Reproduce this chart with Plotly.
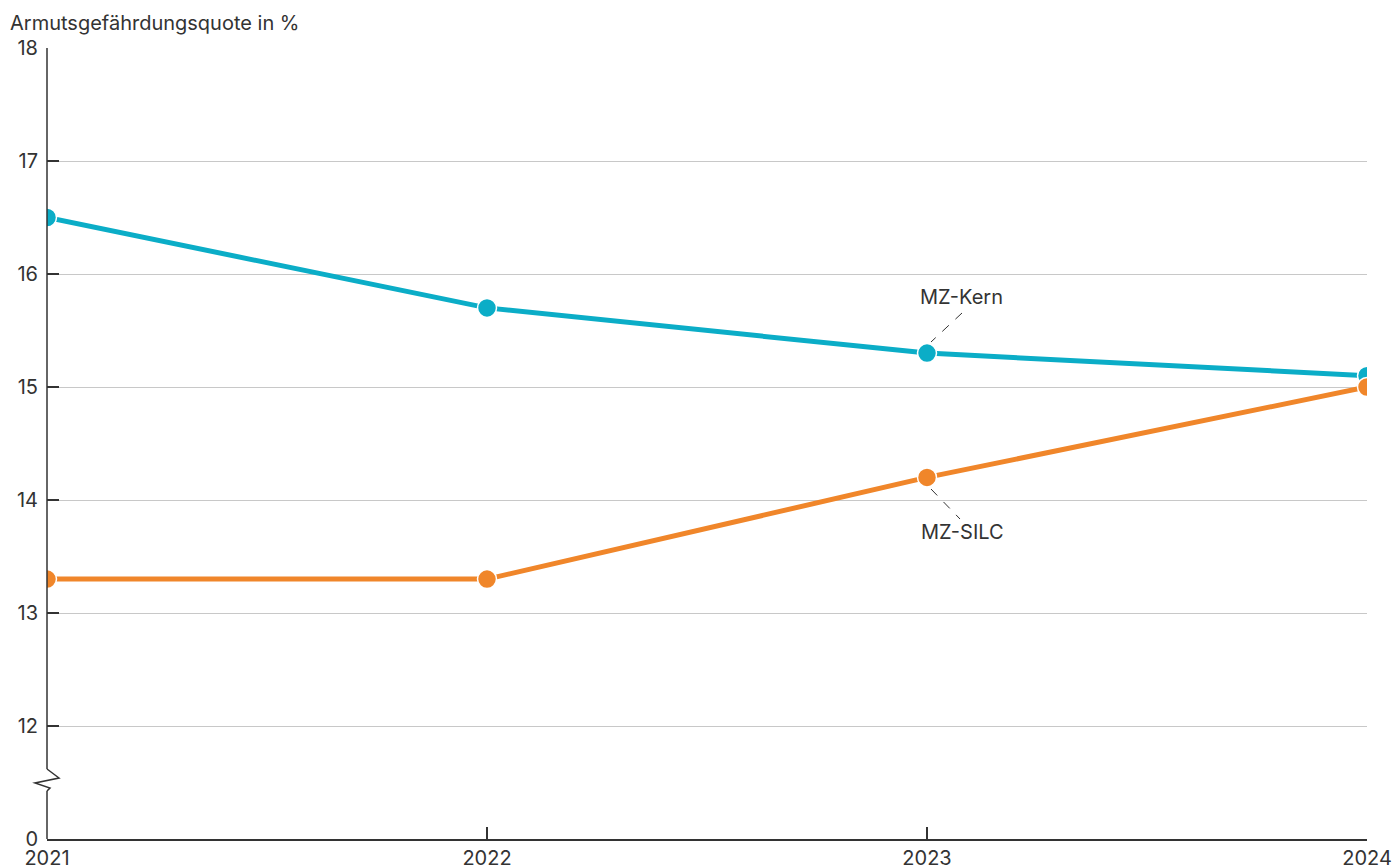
import plotly.graph_objects as go

years = [2021, 2022, 2023, 2024]
mz_kern = [16.5, 15.7, 15.3, 15.1]
mz_silc = [13.3, 13.3, 14.2, 15.0]
tick_vals = [11, 12, 13, 14, 15, 16, 17, 18]
tick_text = ["0", "12", "13", "14", "15", "16", "17", "18"]
y_title = "Armutsgefährdungsquote in %"

TEAL = "#0BADC7"
ORANGE = "#F0862A"
TXT = "#333333"
FONT = "Inter"
FS = 20

fig = go.Figure()
for name, vals, col in [("MZ-Kern", mz_kern, TEAL), ("MZ-SILC", mz_silc, ORANGE)]:
    fig.add_trace(go.Scatter(
        x=years, y=vals, name=name, mode="lines+markers",
        line=dict(color=col, width=5),
        marker=dict(size=19, color=col, line=dict(color="white", width=1.5)),
        cliponaxis=True, showlegend=False,
    ))

W, H = 1394, 866
L, R, T, B = 47, 27, 48, 27
PW = W - L - R
PH = H - T - B

def px_to_x(p):
    return 2021 + (p - L) / PW * 3

def px_to_y(p):
    return 18 - (p - T) / PH * 7

def px_to_xpaper(p):
    return (p - L) / PW

AX = "#333333"
shapes = []
# y axis line with break
shapes.append(dict(type="line", xref="paper", yref="y", x0=0, x1=0,
                   y0=18, y1=px_to_y(769), line=dict(color=AX, width=1.5)))
shapes.append(dict(type="line", xref="paper", yref="y", x0=0, x1=0,
                   y0=px_to_y(791), y1=11, line=dict(color=AX, width=1.5)))
zz = [(47, 769), (59, 778), (35, 783), (50, 788), (47, 791)]
path = "M " + " L ".join(f"{px_to_xpaper(a)},{px_to_y(b)}" for a, b in zz)
shapes.append(dict(type="path", xref="paper", yref="y", path=path,
                   line=dict(color=AX, width=1.5)))
# leader lines
shapes.append(dict(type="line", xref="x", yref="y",
                   x0=px_to_x(962), y0=px_to_y(313), x1=px_to_x(931), y1=px_to_y(342),
                   line=dict(color=TXT, width=1, dash="dash")))
shapes.append(dict(type="line", xref="x", yref="y",
                   x0=px_to_x(931), y0=px_to_y(489), x1=px_to_x(960), y1=px_to_y(519),
                   line=dict(color=TXT, width=1, dash="dash")))

annotations = [
    dict(text="MZ-Kern", x=px_to_x(961), y=px_to_y(297), xref="x", yref="y",
         showarrow=False, font=dict(size=FS, color=TXT, family=FONT)),
    dict(text="MZ-SILC", x=px_to_x(962), y=px_to_y(532), xref="x", yref="y",
         showarrow=False, font=dict(size=FS, color=TXT, family=FONT)),
    dict(text=y_title, xref="paper", yref="paper", x=(8 - L) / PW, y=1 + (T - 23) / PH,
         xanchor="left", yanchor="middle", showarrow=False,
         font=dict(size=FS, color=TXT, family=FONT)),
]

fig.update_layout(
    width=W, height=H,
    margin=dict(l=L, r=R, t=T, b=B, pad=0, autoexpand=False),
    paper_bgcolor="white", plot_bgcolor="white",
    font=dict(family=FONT, size=FS, color=TXT),
    shapes=shapes, annotations=annotations,
    xaxis=dict(range=[2021, 2024], tickvals=years, ticktext=[str(y) for y in years],
               showgrid=False, zeroline=False, showline=True, linecolor=AX, linewidth=1.5,
               ticks="inside", ticklen=12, tickcolor=AX, tickwidth=1.5, automargin=False,
               tickfont=dict(size=FS, color=TXT, family=FONT)),
    yaxis=dict(range=[11, 18], tickvals=tick_vals, ticktext=tick_text,
               showgrid=True, gridcolor="#C8C8C8", gridwidth=1, zeroline=False,
               showline=False, ticks="inside", ticklen=12, tickcolor=AX, tickwidth=1.5,
               ticklabelstandoff=8, automargin=False,
               tickfont=dict(size=FS, color=TXT, family=FONT)),
)

fig.write_html("out.html", config={"displayModeBar": False},
               post_script="document.body.style.margin='0';document.body.style.overflow='hidden';")
